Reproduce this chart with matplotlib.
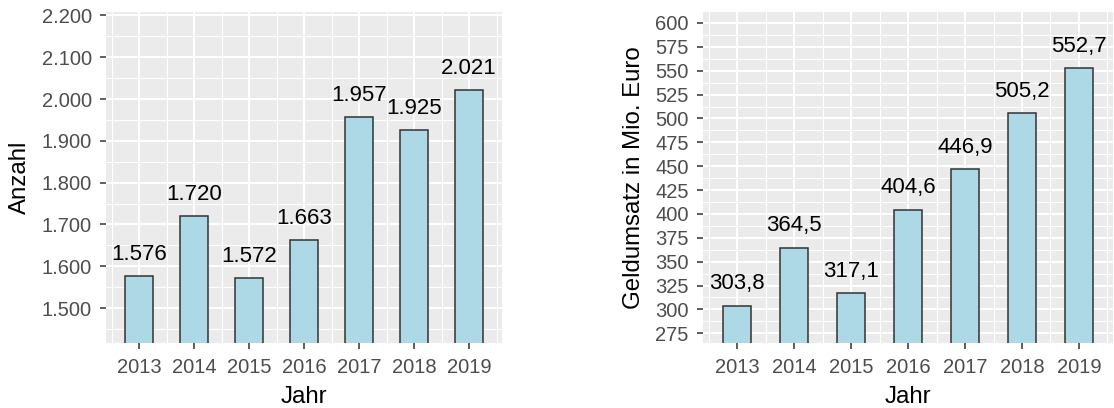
import numpy as np
import matplotlib.pyplot as plt
from matplotlib.ticker import FuncFormatter, MultipleLocator

plt.rcParams['font.family'] = ['Liberation Sans', 'DejaVu Sans']

# data
jahre = [2013, 2014, 2015, 2016, 2017, 2018, 2019]
anzahl = [1576, 1720, 1572, 1663, 1957, 1925, 2021]
umsatz = [303.8, 364.5, 317.1, 404.6, 446.9, 505.2, 552.7]
anzahl_labels = ['1.576', '1.720', '1.572', '1.663', '1.957', '1.925', '2.021']
umsatz_labels = ['303,8', '364,5', '317,1', '404,6', '446,9', '505,2', '552,7']

bg = '#EBEBEB'
tick_col = '#4D4D4D'


def style_axis(ax):
    ax.set_facecolor(bg)
    for s in ax.spines.values():
        s.set_visible(False)
    ax.grid(which='major', color='white', linewidth=1.5)
    ax.grid(which='minor', color='white', linewidth=0.75)
    ax.set_axisbelow(True)
    ax.tick_params(which='major', length=4.1, width=1.1, color='#333333',
                   labelsize=14.5, labelcolor=tick_col, pad=6.2)
    ax.tick_params(which='minor', length=0)
    ax.xaxis.set_major_locator(MultipleLocator(1))
    ax.xaxis.set_minor_locator(MultipleLocator(0.5))
    ax.set_xlim(2012.4, 2019.6)
    ax.set_xlabel('Jahr', fontsize=17.3, labelpad=6.5)


def bar_panel(ax, values, labels):
    ax.bar(jahre, values, width=0.5, color='#ADD8E6', edgecolor='#333333',
           linewidth=1.1, zorder=2)
    for x, v, t in zip(jahre, values, labels):
        ax.annotate(t, (x, v), xytext=(0, 11.8), textcoords='offset points',
                    ha='center', va='baseline', fontsize=16, color='black')


fig = plt.figure(figsize=(11.14, 4.08), dpi=100)
ax1 = fig.add_axes([0.0952, 0.1586, 0.3555, 0.8120])
ax2 = fig.add_axes([0.6311, 0.1586, 0.3681, 0.8120])

# linkes Panel: Anzahl
bar_panel(ax1, anzahl, anzahl_labels)
style_axis(ax1)
ax1.set_ylim(1416, 2208)
ax1.yaxis.set_major_locator(MultipleLocator(100))
ax1.yaxis.set_minor_locator(MultipleLocator(50))
ax1.yaxis.set_major_formatter(FuncFormatter(lambda v, p: f'{int(v):,}'.replace(',', '.')))
ax1.set_ylabel('Anzahl', fontsize=17.3, labelpad=7.5)

# rechtes Panel: Geldumsatz
bar_panel(ax2, umsatz, umsatz_labels)
style_axis(ax2)
ax2.set_ylim(264.5, 611.5)
ax2.yaxis.set_major_locator(MultipleLocator(25))
ax2.yaxis.set_minor_locator(MultipleLocator(12.5))
ax2.yaxis.set_major_formatter(FuncFormatter(lambda v, p: f'{int(v)}'))
ax2.set_ylabel('Geldumsatz in Mio. Euro', fontsize=17.3, labelpad=7.5)

fig.savefig('out.png', dpi=100)
